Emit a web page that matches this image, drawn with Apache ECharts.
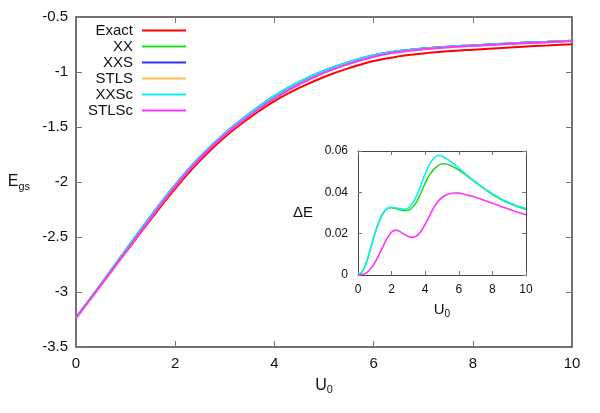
<!DOCTYPE html>
<html><head><meta charset="utf-8">
<script src="https://cdn.jsdelivr.net/npm/echarts@6/dist/echarts.min.js"></script>
<style>html,body{margin:0;padding:0;background:#fff}#c{width:600px;height:413px}</style>
</head><body><div id="c"></div>
<script>
// ---- data ----
const U = [0,0.5,1,1.5,2,2.5,3,3.5,4,4.5,5,5.5,6,6.5,7,7.5,8,8.5,9,9.5,10];
const seriesNames = ['Exact','XX','XXS','STLS','XXSc','STLSc'];
// ground-state energies (main panel)
const E_exact = [-3.236,-2.938,-2.641,-2.345,-2.060,-1.805,-1.590,-1.415,-1.265,-1.145,-1.045,-0.965,-0.900,-0.858,-0.831,-0.812,-0.797,-0.783,-0.770,-0.759,-0.748];
const E_XX    = [-3.236,-2.932,-2.621,-2.315,-2.027,-1.773,-1.559,-1.380,-1.221,-1.094,-0.991,-0.912,-0.849,-0.810,-0.786,-0.770,-0.758,-0.746,-0.735,-0.726,-0.716];
const E_XXS   = [-3.236,-2.932,-2.621,-2.315,-2.027,-1.773,-1.558,-1.377,-1.216,-1.089,-0.988,-0.910,-0.848,-0.810,-0.786,-0.770,-0.758,-0.746,-0.735,-0.726,-0.716];
const E_STLS  = [-3.236,-2.937,-2.635,-2.331,-2.039,-1.784,-1.571,-1.396,-1.241,-1.113,-1.008,-0.926,-0.861,-0.819,-0.793,-0.776,-0.762,-0.750,-0.738,-0.729,-0.719];
const E_XXSc  = [-3.236,-2.932,-2.621,-2.315,-2.027,-1.773,-1.558,-1.377,-1.216,-1.089,-0.988,-0.910,-0.848,-0.810,-0.786,-0.770,-0.758,-0.746,-0.735,-0.726,-0.716];
const E_STLSc = [-3.236,-2.937,-2.635,-2.331,-2.039,-1.784,-1.571,-1.396,-1.241,-1.113,-1.008,-0.926,-0.861,-0.819,-0.793,-0.776,-0.762,-0.750,-0.738,-0.729,-0.719];
// energy errors (inset), sampled every 0.25
const Ui = [0,0.25,0.5,0.75,1,1.25,1.5,1.75,2,2.25,2.5,2.75,3,3.25,3.5,3.75,4,4.25,4.5,4.75,5,5.25,5.5,5.75,6,6.25,6.5,6.75,7,7.25,7.5,7.75,8,8.25,8.5,8.75,9,9.25,9.5,9.75,10];
const dE_XX    = [0,0.0015,0.006,0.013,0.020,0.0258,0.0300,0.0321,0.0326,0.0322,0.0316,0.0311,0.0313,0.0328,0.0355,0.0398,0.0445,0.0483,0.0510,0.0528,0.0538,0.0537,0.0530,0.0520,0.0508,0.0494,0.0478,0.0463,0.0447,0.0432,0.0418,0.0404,0.0390,0.0378,0.0366,0.0356,0.0347,0.0339,0.0331,0.0324,0.0317];
const dE_XXSc  = [0,0.0015,0.006,0.013,0.020,0.0258,0.0300,0.0322,0.0328,0.0325,0.0320,0.0318,0.0325,0.0348,0.0385,0.0435,0.0490,0.0535,0.0565,0.0578,0.0575,0.0564,0.0550,0.0534,0.0517,0.0500,0.0482,0.0466,0.0450,0.0435,0.0420,0.0406,0.0393,0.0381,0.0369,0.0359,0.0350,0.0342,0.0334,0.0328,0.0322];
const dE_STLSc = [0,0.0002,0.001,0.003,0.006,0.0098,0.0140,0.0180,0.0208,0.0217,0.0210,0.0197,0.0186,0.0182,0.0190,0.0212,0.0245,0.0285,0.0325,0.0355,0.0375,0.0387,0.0394,0.0397,0.0396,0.0392,0.0387,0.0382,0.0376,0.0369,0.0362,0.0355,0.0347,0.0340,0.0332,0.0325,0.0318,0.0311,0.0304,0.0298,0.0292];
const mainTicksX = [0,2,4,6,8,10];
const mainTicksY = [-3.5,-3,-2.5,-2,-1.5,-1,-0.5];
const insetTicksY = [0,0.02,0.04,0.06];

// ---- chart ----
const FF = 'Liberation Sans, Arial, sans-serif';
const colors = {Exact:'#ff0000', XX:'#22dd22', XXS:'#3333ee', STLS:'#ffbb55', XXSc:'#11eeee', STLSc:'#ff33ff'};
const pairs = (xs, ys) => xs.map((u,i)=>[u, ys[i]]);
const mainData = [E_exact,E_XX,E_XXS,E_STLS,E_XXSc,E_STLSc];
const axisCol = '#444';

function axis(grid, pos, min, max, interval, showLabel, fs, margin, name, nameGap, nameFs) {
  return {
    type:'value', gridIndex:grid, position:pos, min:min, max:max, interval:interval,
    axisLine:{show:true, onZero:false, lineStyle:{color:axisCol, width: grid===0?1.5:1}},
    axisTick:{show:true, inside:true, length: grid===0?6:4, lineStyle:{color:'#777'}},
    splitLine:{show:false},
    axisLabel:{show:showLabel, fontSize:fs, fontFamily:FF, color:'#111', margin:margin},
    name: name || '', nameLocation:'middle', nameGap:nameGap, nameRotate:0,
    nameTextStyle: name ? {
      fontFamily:FF, color:'#111',
      rich:{a:{fontSize:nameFs, fontFamily:FF, color:'#111'}, b:{fontSize:nameFs*0.68, fontFamily:FF, color:'#111', padding:[nameFs*0.62,0,0,0]}}
    } : undefined
  };
}

const chart = echarts.init(document.getElementById('c'), null, {renderer:'canvas'});
const series = [];
seriesNames.forEach((n,i)=>{
  series.push({name:n, type:'line', xAxisIndex:0, yAxisIndex:0, data:pairs(U, mainData[i]),
    smooth:0.4, showSymbol:false, symbol:'none', color:colors[n], lineStyle:{width:2, color:colors[n]}, z:2+i});
});
[['XX',dE_XX],['XXSc',dE_XXSc],['STLSc',dE_STLSc]].forEach(([n,d],i)=>{
  series.push({name:'Δ'+n, type:'line', xAxisIndex:2, yAxisIndex:2, data:pairs(Ui, d),
    smooth:0.35, showSymbol:false, symbol:'none', color:colors[n], lineStyle:{width:1.6, color:colors[n]}, z:10+i});
});

chart.setOption({
  animation:false,
  backgroundColor:'#fff',
  grid:[
    {left:76, right:28, top:17, bottom:66, containLabel:false},
    {left:358, right:74, top:151, bottom:138, containLabel:false}
  ],
  legend:{
    data:seriesNames, orient:'vertical', align:'right', right:409, top:18,
    icon:'rect', itemWidth:44, itemHeight:2, itemGap:1,
    textStyle:{fontSize:15, fontFamily:FF, color:'#111', padding:[0,4,0,0]}
  },
  xAxis:[
    axis(0,'bottom',mainTicksX[0],mainTicksX[mainTicksX.length-1],2,true,15,9,'{a|U}{b|0}',28,16),
    axis(0,'top',mainTicksX[0],mainTicksX[mainTicksX.length-1],2,false,15,8),
    axis(1,'bottom',mainTicksX[0],mainTicksX[mainTicksX.length-1],2,true,12,9,'{a|U}{b|0}',25,15),
    axis(1,'top',mainTicksX[0],mainTicksX[mainTicksX.length-1],2,false,12,8)
  ],
  yAxis:[
    axis(0,'left',mainTicksY[0],mainTicksY[mainTicksY.length-1],0.5,true,15,8,'{a|E}{b|gs}',46,16),
    axis(0,'right',mainTicksY[0],mainTicksY[mainTicksY.length-1],0.5,false,15,8),
    axis(1,'left',insetTicksY[0],insetTicksY[insetTicksY.length-1],0.02,true,12,10,'{a|ΔE}',45,15),
    axis(1,'right',insetTicksY[0],insetTicksY[insetTicksY.length-1],0.02,false,12,8)
  ],
  series:series
});
</script>
</body></html>
